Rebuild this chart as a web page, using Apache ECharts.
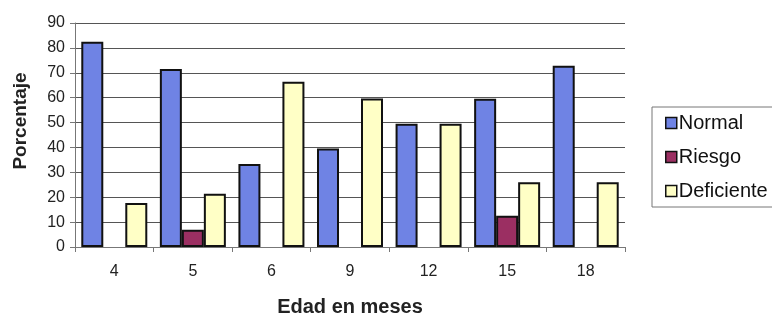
<!DOCTYPE html>
<html>
<head>
<meta charset="utf-8">
<script src="https://cdn.jsdelivr.net/npm/echarts@6/dist/echarts.min.js"></script>
<style>
  html, body { margin: 0; padding: 0; background: #fff; }
  #chart { width: 772px; height: 315px; }
</style>
</head>
<body>
<div id="chart"></div>
<script>
// datos del gráfico
var edades = ["4", "5", "6", "9", "12", "15", "18"];
var normal = [82.5, 71.5, 33.3, 39.6, 49.5, 59.6, 72.8];
var riesgo = [0, 6.9, 0, 0, 0, 12.6, 0];
var deficiente = [17.7, 21.4, 66.4, 59.7, 49.5, 26, 26];
var yTicks = [0, 10, 20, 30, 40, 50, 60, 70, 80, 90];

var fuente = "Liberation Sans, Arial, sans-serif";
var chart = echarts.init(document.getElementById("chart"));

function barra(nombre, datos, color) {
  return {
    name: nombre,
    type: "bar",
    // los ceros no se dibujan (como en el original)
    data: datos.map(function (v) { return v === 0 ? null : v; }),
    barGap: "0%",
    barCategoryGap: "16%",
    itemStyle: {
      color: color,
      borderColor: "#111",
      borderWidth: 2,
    },
  };
}

chart.setOption({
  animation: false,
  textStyle: { fontFamily: fuente },
  grid: { left: 75, right: 147, top: 23, bottom: 68, outerBoundsMode: "none" },
  legend: {
    orient: "vertical",
    left: 652,
    top: 107,
    padding: [6, 40, 6, 13],
    itemGap: 14,
    itemWidth: 11,
    itemHeight: 11,
    borderColor: "#777",
    borderWidth: 1,
    icon: "rect",
    itemStyle: { borderColor: "#111", borderWidth: 1.5 },
    textStyle: { fontFamily: fuente, fontSize: 20, lineHeight: 20, color: "#111", padding: [0, 0, 0, -3] },
    data: ["Normal", "Riesgo", "Deficiente"],
  },
  xAxis: {
    type: "category",
    data: edades,
    name: "Edad en meses",
    nameLocation: "middle",
    nameGap: 50,
    nameTextStyle: { fontFamily: fuente, fontSize: 20, fontWeight: "bold", color: "#222" },
    axisLine: { lineStyle: { color: "#777", width: 1 } },
    axisTick: { show: true, length: 5, lineStyle: { color: "#777" } },
    axisLabel: { fontFamily: fuente, fontSize: 16, color: "#222", margin: 17 },
  },
  yAxis: {
    type: "value",
    min: yTicks[0],
    max: yTicks[yTicks.length - 1],
    interval: 10,
    name: "Porcentaje",
    nameLocation: "middle",
    nameGap: 45,
    nameTextStyle: { fontFamily: fuente, fontSize: 19, fontWeight: "bold", color: "#222", padding: [0, 0, 0, 28] },
    axisLine: { show: true, lineStyle: { color: "#777", width: 1 } },
    axisTick: { show: true, length: 5, lineStyle: { color: "#777" } },
    axisLabel: { fontFamily: fuente, fontSize: 16, color: "#222", margin: 10 },
    splitLine: { lineStyle: { color: "#555", width: 1 } },
  },
  series: [
    barra("Normal", normal, "#6f83e4"),
    barra("Riesgo", riesgo, "#9b2f62"),
    barra("Deficiente", deficiente, "#ffffc6"),
  ],
});
</script>
</body>
</html>
